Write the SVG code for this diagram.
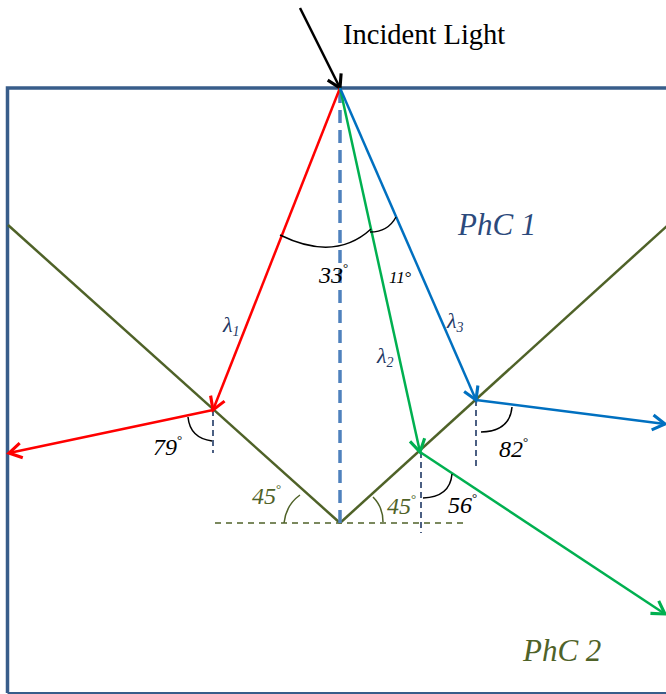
<svg xmlns="http://www.w3.org/2000/svg" width="666" height="694" viewBox="0 0 666 694">
<defs>
<style>
.ray{fill:none;stroke-width:2.5}
.iface{fill:none;stroke:#4f6228;stroke-width:2.5}
.norm{fill:none;stroke:#1f3864;stroke-width:1.6;stroke-dasharray:6,4}
.arc{fill:none;stroke:#000;stroke-width:1.5}
.arcO{fill:none;stroke:#4f6228;stroke-width:1.5}
.t{font-family:"Liberation Serif","Times New Roman",serif}
.it{font-family:"Liberation Serif","Times New Roman",serif;font-style:italic}
</style>
<marker id="aR" markerUnits="userSpaceOnUse" markerWidth="20" markerHeight="20" refX="0" refY="0" viewBox="-12 -8 14 16" orient="auto"><path d="M-10,-6 L0,0 L-10,6" fill="none" stroke="#ff0000" stroke-width="2.5"/></marker>
<marker id="aG" markerUnits="userSpaceOnUse" markerWidth="20" markerHeight="20" refX="0" refY="0" viewBox="-12 -8 14 16" orient="auto"><path d="M-10,-6 L0,0 L-10,6" fill="none" stroke="#00b050" stroke-width="2.5"/></marker>
<marker id="aB" markerUnits="userSpaceOnUse" markerWidth="20" markerHeight="20" refX="0" refY="0" viewBox="-12 -8 14 16" orient="auto"><path d="M-10,-6 L0,0 L-10,6" fill="none" stroke="#0070c0" stroke-width="2.5"/></marker>
<marker id="aK" markerUnits="userSpaceOnUse" markerWidth="20" markerHeight="20" refX="0" refY="0" viewBox="-12 -8 14 16" orient="auto"><path d="M-10,-6 L0,0 L-10,6" fill="none" stroke="#000" stroke-width="2.5"/></marker>
</defs>
<rect width="666" height="694" fill="#fff"/>
<g id="frame">
<path d="M680,88 L7.5,88 L7.5,693" fill="none" stroke="#385d8a" stroke-width="3.5"/>
<line x1="7.5" y1="693" x2="680" y2="693" stroke="#385d8a" stroke-width="2"/>
</g>
<g id="interfaces">
<line class="iface" x1="8" y1="225" x2="340" y2="523"/>
<line class="iface" x1="340" y1="523" x2="668" y2="225"/>
<line x1="215" y1="523" x2="467" y2="523" stroke="#4f6228" stroke-width="1.3" stroke-dasharray="6,5"/>
</g>
<g id="normals">
<line x1="340" y1="90" x2="340" y2="523" stroke="#4f81bd" stroke-width="3.5" stroke-dasharray="13,7"/>
<line class="norm" x1="213" y1="410" x2="213" y2="453"/>
<line class="norm" x1="476" y1="400" x2="476" y2="469"/>
<line class="norm" x1="421" y1="452" x2="421" y2="533"/>
</g>
<g id="connectors">
<line class="ray" stroke="#000" x1="300" y1="8" x2="340" y2="88" marker-end="url(#aK)"/>
<line class="ray" stroke="#ff0000" x1="340" y1="88" x2="213" y2="410" marker-end="url(#aR)"/>
<line class="ray" stroke="#ff0000" x1="213" y1="410" x2="9" y2="453" marker-end="url(#aR)"/>
<line class="ray" stroke="#00b050" x1="340" y1="88" x2="420" y2="452" marker-end="url(#aG)"/>
<line class="ray" stroke="#00b050" x1="420" y1="452" x2="665" y2="614" marker-end="url(#aG)"/>
<line class="ray" stroke="#0070c0" x1="340" y1="88" x2="476" y2="400" marker-end="url(#aB)"/>
<line class="ray" stroke="#0070c0" x1="476" y1="400" x2="665" y2="424" marker-end="url(#aB)"/>
</g>
<g id="arcs">
<path class="arc" d="M280,235 Q335,262 371,229"/>
<path class="arc" d="M370,232 Q388,232 396,217"/>
<path class="arc" d="M188,417 Q190,438 212,441"/>
<path class="arc" d="M512,407 Q510,431 481,432"/>
<path class="arc" d="M452,474 Q450,497 423,498"/>
<path class="arcO" d="M300,495 Q286,505 284,523"/>
<path class="arcO" d="M373,497 Q383,507 383,522"/>
</g>
<g id="labels">
<text class="t" x="343" y="44" font-size="28.5" fill="#000">Incident Light</text>
<text class="it" x="458" y="235" font-size="31" fill="#2c4a7c">PhC 1</text>
<text class="it" x="523" y="661" font-size="31" fill="#4f6228">PhC 2</text>
<text class="it" x="319" y="283" font-size="24" fill="#000">33<tspan font-size="13" dy="-11" font-style="normal">°</tspan></text>
<text class="it" x="389" y="283" font-size="17" fill="#000">11<tspan font-style="normal">°</tspan></text>
<text class="it" x="223" y="332" font-size="22" fill="#1f3864">λ<tspan font-size="14" dy="4">1</tspan></text>
<text class="it" x="377" y="363" font-size="22" fill="#1f3864">λ<tspan font-size="14" dy="4">2</tspan></text>
<text class="it" x="447" y="328" font-size="22" fill="#1f3864">λ<tspan font-size="14" dy="4">3</tspan></text>
<text class="it" x="153" y="455" font-size="24" fill="#000">79<tspan font-size="13" dy="-11" font-style="normal">°</tspan></text>
<text class="it" x="499" y="457" font-size="24" fill="#000">82<tspan font-size="13" dy="-11" font-style="normal">°</tspan></text>
<text class="it" x="448" y="513" font-size="24" fill="#000">56<tspan font-size="13" dy="-11" font-style="normal">°</tspan></text>
<text class="it" x="252" y="504" font-size="24" fill="#4f6228">45<tspan font-size="13" dy="-11" font-style="normal">°</tspan></text>
<text class="it" x="387" y="514" font-size="24" fill="#4f6228">45<tspan font-size="13" dy="-11" font-style="normal">°</tspan></text>
</g>
</svg>
